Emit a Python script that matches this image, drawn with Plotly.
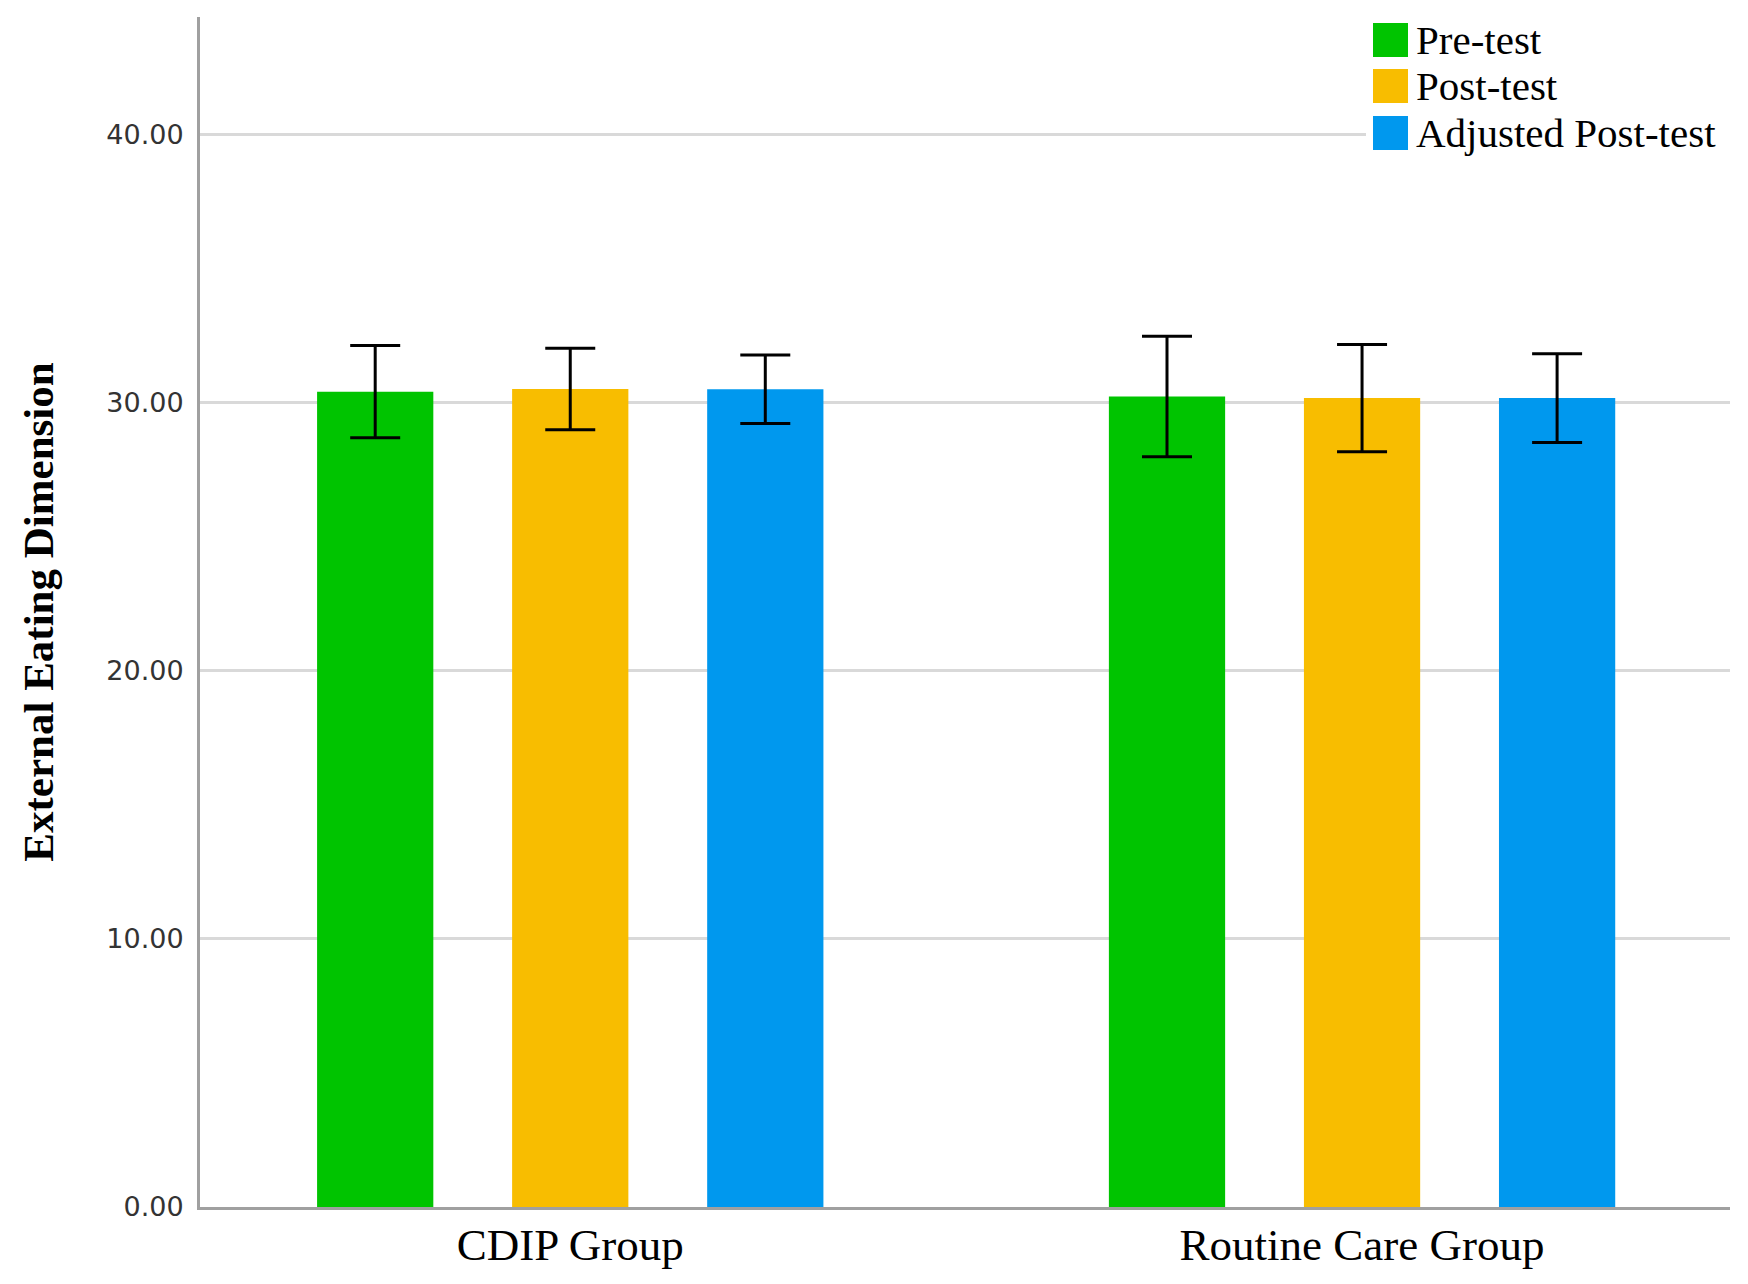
import plotly.graph_objects as go

groups = ["CDIP Group", "Routine Care Group"]
series_names = ["Pre-test", "Post-test", "Adjusted Post-test"]
pre_test = [30.42, 30.24]
post_test = [30.52, 30.18]
adjusted_post = [30.51, 30.18]
pre_err = [1.72, 2.25]
post_err = [1.52, 2.00]
adjusted_err = [1.28, 1.66]
colors = ["#00C400", "#F8BD00", "#0098EE"]
y_ticks = [0, 10, 20, 30, 40]

values = [pre_test, post_test, adjusted_post]
errors = [pre_err, post_err, adjusted_err]

W, H = 1748, 1284
ML, MR, MT, MB = 192, 26, 9, 85


def px(x):
    return (x - ML) / (W - ML - MR)


def py(y):
    return 1 - (y - MT) / (H - MT - MB)


fig = go.Figure()
for name, vals, errs, col in zip(series_names, values, errors, colors):
    fig.add_trace(go.Bar(
        x=groups, y=vals, name=name, marker=dict(color=col, line=dict(width=0)),
        error_y=dict(type="data", array=errs, visible=True, color="black",
                     thickness=3, width=25),
        showlegend=False,
    ))

# custom legend (large swatches)
sw_x0, sw_x1, txt_x = 1365, 1400, 1406
row_centers = [32, 78, 125]
shapes = [dict(type="rect", xref="paper", yref="paper",
               x0=px(1358), x1=1.0, y0=py(150), y1=1.0,
               fillcolor="white", line=dict(width=0), layer="above")]
annotations = []
for name, col, yc in zip(series_names, colors, row_centers):
    shapes.append(dict(type="rect", xref="paper", yref="paper",
                       x0=px(sw_x0), x1=px(sw_x1), y0=py(yc + 17), y1=py(yc - 17),
                       fillcolor=col, line=dict(width=0), layer="above"))
    annotations.append(dict(xref="paper", yref="paper", x=px(txt_x), y=py(yc),
                            xanchor="left", yanchor="middle", showarrow=False,
                            text=name, font=dict(family="Liberation Serif", size=41, color="black")))

fig.update_layout(
    width=W, height=H,
    margin=dict(l=ML, r=MR, t=MT, b=MB),
    paper_bgcolor="white", plot_bgcolor="white",
    barmode="group", bargap=0.261, bargroupgap=0.404,
    shapes=shapes, annotations=annotations,
    showlegend=False,
)
fig.update_xaxes(
    type="category", range=[-0.4676, 1.4647], automargin=False,
    showline=True, linecolor="#A0A0A0", linewidth=3,
    showgrid=False, ticks="",
    tickfont=dict(family="Liberation Serif", size=45, color="black"),
    ticklabelstandoff=-4,
)
fig.update_yaxes(
    range=[0, 44.4], tickvals=y_ticks, tickformat=".2f", automargin=False,
    showline=True, linecolor="#A0A0A0", linewidth=3,
    showgrid=True, gridcolor="#D9D9D9", gridwidth=2.5,
    zeroline=False, ticks="",
    tickfont=dict(family="DejaVu Sans", size=27, color="#333333"),
    ticklabelstandoff=8,
    title=dict(text="<b>External Eating Dimension</b>",
               font=dict(family="Liberation Serif", size=43, color="black"),
               standoff=40),
)

fig.write_html("out.html")
